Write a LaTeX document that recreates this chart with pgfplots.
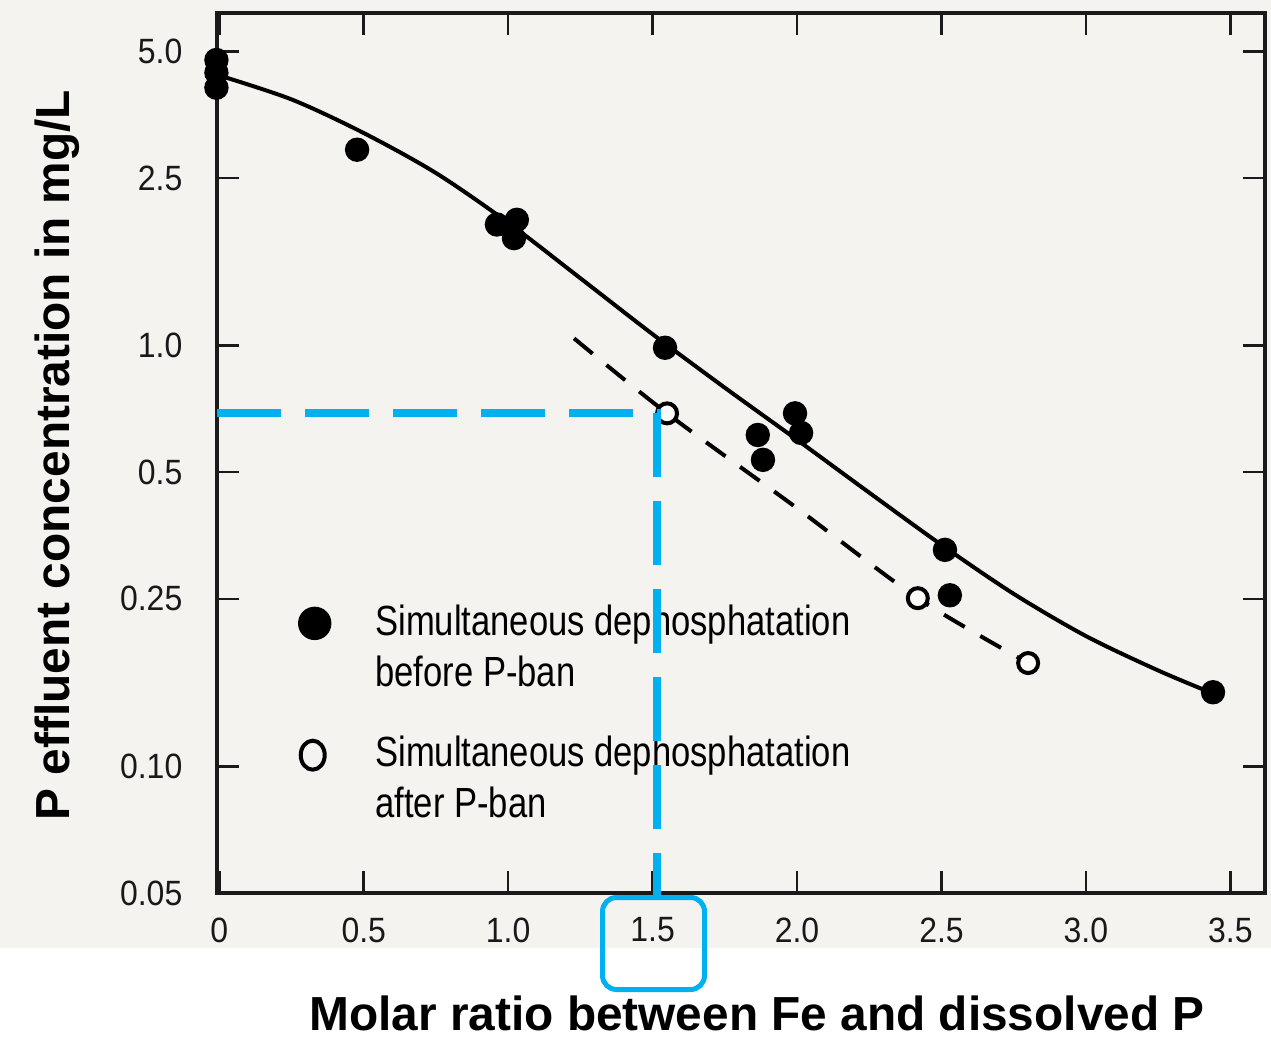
\documentclass[border=0pt]{standalone}
\usepackage{fontspec}
\setmainfont{Liberation Sans}
\newfontfamily\tickfont[FakeStretch=0.91]{Liberation Sans}
\newfontfamily\legfont[FakeStretch=0.82]{Liberation Sans}
\usepackage{pgfplots}
\pgfplotsset{compat=1.18}
\definecolor{paper}{HTML}{F4F3F0}
\definecolor{hiblue}{HTML}{00B0F0}
\definecolor{ink}{HTML}{1A1A1A}

\begin{document}
\begin{tikzpicture}
  % picture frame in 0.1 mm units of the 1271 x 1036 reference
  \path[use as bounding box] (0,0) rectangle (127.1mm,103.6mm);
  \fill[paper] (0,8.8mm) rectangle (127.1mm,103.6mm);

  \begin{axis}[
    at={(21.7mm,14.3mm)}, anchor=south west,
    scale only axis, width=104.8mm, height=88mm,
    xmin=-0.008, xmax=3.62,
    ymode=log, ymin=0.05, ymax=6.17,
    xtick={0,0.5,1,1.5,2,2.5,3,3.5},
    xticklabels={0,0.5,1.0,1.5,2.0,2.5,3.0,3.5},
    ytick={0.05,0.1,0.25,0.5,1,2.5,5},
    yticklabels={0.05,0.10,0.25,0.5,1.0,2.5,5.0},
    xminorticks=false, yminorticks=false,
    tick align=inside, major tick length=2.2mm,
    axis line style={ink,line width=0.35mm},
    every tick/.style={ink,line width=0.25mm},
    xticklabel style={font=\tickfont\fontsize{10}{12}\selectfont,
      text=black!90, anchor=north, inner sep=0pt, yshift=-2.4mm},
    yticklabel style={font=\tickfont\fontsize{10}{12}\selectfont,
      text=black!90, anchor=east, inner sep=0pt, xshift=-3.4mm},
    clip=false,
    legend cell align=left,
    legend style={at={(axis description cs:0.0773,0.3273)},
      anchor=north west, draw=none, fill=none,
      inner sep=0pt, outer sep=0pt,
      row sep=4.4mm, column sep=4.4mm,
      font=\legfont\fontsize{12}{14.5}\selectfont,
      nodes={inner sep=0pt},
      cells={anchor=west,align=left}}]

    % fitted curve, before P-ban
    \addplot[black,line width=0.4mm,smooth,forget plot] coordinates {
      (-0.008,4.40) (0.25,3.846) (0.5,3.199) (0.75,2.570) (1.0,1.959)
      (1.25,1.445) (1.5,1.064) (1.75,0.794) (2.0,0.597) (2.25,0.447)
      (2.5,0.336) (2.75,0.257) (3.0,0.204) (3.25,0.169) (3.44,0.149)};

    % dashed curve, after P-ban
    \addplot[black,line width=0.4mm,smooth,dash pattern=on 2.4mm off 1.8mm,
      forget plot] coordinates {
      (1.228,1.04) (1.55,0.69) (1.993,0.414) (2.418,0.251) (2.80,0.176)};

    \addplot[only marks,mark=*,mark size=1.15mm,
      mark options={fill=black,draw=black},
      legend image code/.code={
        \path[draw=none,fill=none] (0mm,0mm) rectangle (3.2mm,0mm);
        \fill[black] (1.6mm,2.5mm) circle (1.6mm);}]
      coordinates {
      (-0.01,4.77) (-0.01,4.45) (-0.01,4.10) (0.477,2.92)
      (0.961,1.94) (1.03,1.99) (1.02,1.80) (1.543,0.988)
      (1.864,0.613) (1.882,0.535) (1.993,0.690) (2.014,0.620)
      (2.512,0.327) (2.529,0.255) (3.44,0.150)};
    \addlegendentry{Simultaneous dephosphatation\\before P-ban}

    \addplot[only marks,mark=*,mark size=1.0mm,
      mark options={fill=paper!40!white,draw=black,line width=0.4mm},
      legend image code/.code={
        \path[draw=none,fill=none] (0mm,0mm) rectangle (3.2mm,0mm);
        \draw[black,line width=0.4mm] (1.4mm,2.4mm) ellipse (1.2mm and 1.45mm);}]
      coordinates {(1.55,0.690) (2.418,0.251) (2.80,0.176)};
    \addlegendentry{Simultaneous dephosphatation\\after P-ban}
  \end{axis}

  % axis titles
  \node[font=\bfseries\fontsize{13.6}{16}\selectfont,anchor=base,inner sep=0pt]
    at (75.7mm,0.6mm) {Molar ratio between Fe and dissolved P};
  \node[font=\bfseries\fontsize{13.6}{16}\selectfont,rotate=90,anchor=base]
    at (6.9mm,58.1mm) {P effluent concentration in mg/L};

  % blue reading lines and box round the 1.5 label
  \draw[hiblue,line width=0.75mm,dash pattern=on 6.4mm off 2.4mm]
    (21.7mm,62.3mm) -- (65.7mm,62.3mm) -- (65.7mm,14.1mm);
  \draw[hiblue,line width=0.5mm,rounded corners=1.4mm]
    (60.25mm,4.65mm) rectangle (70.45mm,13.85mm);
\end{tikzpicture}
\end{document}
